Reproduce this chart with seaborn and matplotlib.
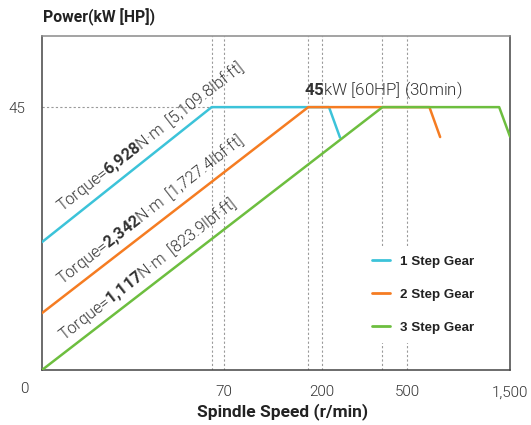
import matplotlib
matplotlib.use("Agg")
import matplotlib.pyplot as plt
import seaborn as sns
import pandas as pd
from matplotlib.font_manager import FontProperties

# ---- data ----
gears = ["1 Step Gear", "2 Step Gear", "3 Step Gear"]
colors = ["#3CC3D9", "#F57C22", "#6DBE3F"]
speed_1 = [10, 61.5, 216, 243]
power_1 = [7.0, 45, 45, 29.6]
speed_2 = [10, 173, 633, 710]
power_2 = [2.63, 45, 45, 29.8]
speed_3 = [10, 383, 1336, 1500]
power_3 = [1.2, 45, 45, 30]
x_ticks = [70, 200, 500, 1500]
x_tick_labels = ["70", "200", "500", "1,500"]
y_ticks = [45]
y_tick_labels = ["45"]
torque_labels = [
    r"Torque=$\mathbf{6{,}928}$N·m  [5,109.8lbf·ft]",
    r"Torque=$\mathbf{2{,}342}$N·m  [1,727.4lbf·ft]",
    r"Torque=$\mathbf{1{,}117}$N·m  [823.9lbf·ft]",
]
rated_label = r"$\mathbf{45}$kW [60HP] (30min)"

df = pd.concat([
    pd.DataFrame({"speed": speed_1, "power": power_1, "gear": gears[0]}),
    pd.DataFrame({"speed": speed_2, "power": power_2, "gear": gears[1]}),
    pd.DataFrame({"speed": speed_3, "power": power_3, "gear": gears[2]}),
])

sns.set_theme(style="white")
plt.rcParams["font.family"] = ["Roboto", "DejaVu Sans"]
plt.rcParams["mathtext.fontset"] = "custom"
plt.rcParams["mathtext.rm"] = "Roboto:light"
plt.rcParams["mathtext.bf"] = "Roboto:bold"

LIGHT = 300
fig = plt.figure(figsize=(5.31, 4.25), dpi=100)
ax = fig.add_axes([42 / 531, 1 - 370 / 425, 468 / 531, 334 / 425])

ax.set_xscale("log")
ax.set_yscale("log")
ax.set_xlim(10, 1500)
ax.set_ylim(1.2, 120)

# reference dotted lines
grid_kw = dict(color="#9a9a9a", linestyle=(0, (2, 2)), linewidth=0.8, zorder=1)
for xv in [speed_1[1], 70, speed_2[1], 200, speed_3[1], 500]:
    ax.axvline(xv, **grid_kw)
ax.plot([speed_1[0], speed_1[1]], [power_1[1], power_1[1]], **grid_kw)

sns.lineplot(data=df, x="speed", y="power", hue="gear", palette=colors,
             estimator=None, sort=False, linewidth=1.8, ax=ax, zorder=3)

ax.minorticks_off()
ax.set_xticks(x_ticks)
ax.set_xticklabels(x_tick_labels, fontweight=LIGHT)
ax.set_yticks(y_ticks)
ax.set_yticklabels(y_tick_labels, fontweight=LIGHT)
ax.tick_params(axis="both", length=0, labelsize=11, colors="#333333")
ax.tick_params(axis="x", pad=11)
ax.tick_params(axis="y", pad=12)
ax.annotate("0", xy=(0, 0), xycoords="axes fraction", xytext=(-18, -19),
            textcoords="offset pixels", ha="center", va="center",
            fontsize=11, color="#333333", fontweight=LIGHT)

for s in ["left", "bottom", "right"]:
    ax.spines[s].set_color("#444444")
    ax.spines[s].set_linewidth(1.1)
ax.spines["top"].set_color("#8a8a8a")
ax.spines["top"].set_linewidth(1.1)

ax.set_xlabel("Spindle Speed (r/min)", fontsize=12.5, fontweight="bold",
              color="#222222", labelpad=3)
ax.xaxis.label.set_x(0.515)
ax.set_ylabel("")
fig.text(43 / 531, 1 - 17 / 425, "Power(kW [HP])", fontsize=11.3,
         fontweight="bold", color="#222222", ha="left", va="center")

# torque annotations
pos = [(0.231, 0.697), (0.231, 0.481), (0.226, 0.301)]
for (px, py), t in zip(pos, torque_labels):
    ax.text(px, py, t, transform=ax.transAxes, rotation=38,
            rotation_mode="anchor", ha="center", va="center",
            fontsize=11.7, color="#333333", fontweight=LIGHT)
ax.text(0.729, 0.838, rated_label, transform=ax.transAxes, ha="center",
        va="center", fontsize=12.2, color="#333333", fontweight=LIGHT)

# legend
handles, labels = ax.get_legend_handles_labels()
leg = ax.legend(handles, labels, loc="center left",
                bbox_to_anchor=(0.685, 0.226), borderaxespad=0,
                frameon=True, facecolor="white", edgecolor="none",
                framealpha=1, borderpad=0.7, labelspacing=1.55,
                handlelength=1.35, handletextpad=0.78,
                prop=FontProperties(family="Liberation Sans", weight="bold", size=9.6))
for t in leg.get_texts():
    t.set_color("#222222")
for h in leg.get_lines():
    h.set_linewidth(2)

fig.savefig("out.png", dpi=100)
